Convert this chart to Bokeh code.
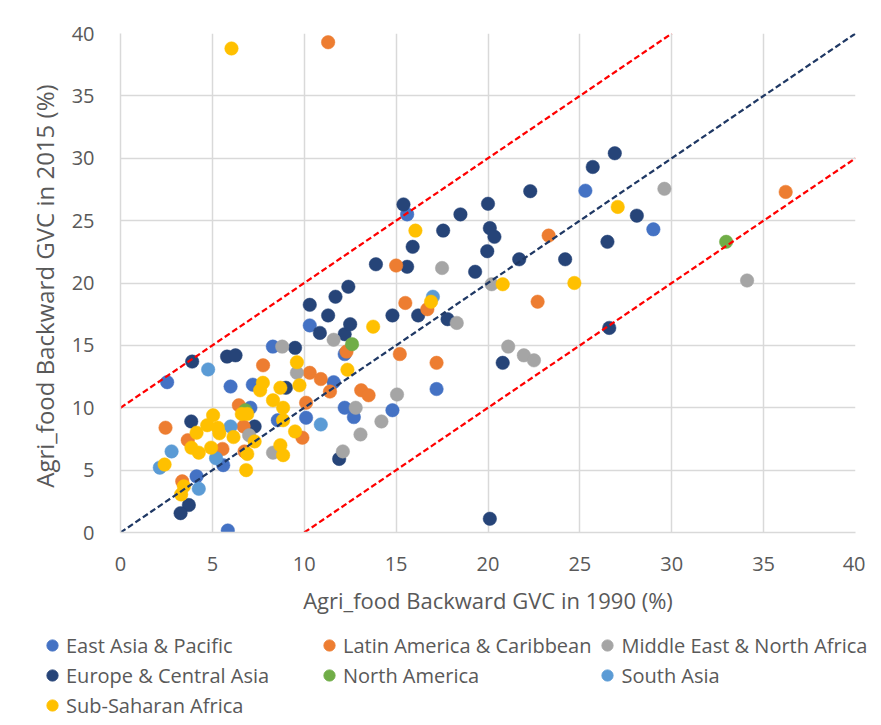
from bokeh.plotting import figure
from bokeh.layouts import column, row
from bokeh.models import Legend, LegendItem, FixedTicker, Range1d
from bokeh.embed import file_html
from bokeh.resources import INLINE

# ---- data ----
eap_x = [2.54, 5.99, 8.29, 7.2, 11.6, 10.1, 8.56, 12.2, 12.7, 14.8, 12.2, 10.3, 15.6, 17.2, 25.3, 29.0, 4.14, 5.59, 5.84, 7.07]
eap_y = [12.05, 11.7, 14.9, 11.85, 12.05, 9.2, 9.0, 10.0, 9.25, 9.8, 14.3, 16.6, 25.5, 11.5, 27.4, 24.3, 4.5, 5.4, 0.16, 10.0]

eca_x = [3.9, 5.8, 6.26, 9.5, 10.85, 12.2, 9.0, 7.3, 3.85, 3.72, 3.27, 11.9, 12.5, 11.3, 10.3, 11.7, 12.4, 13.9, 15.6, 14.8,
         16.2, 17.8, 15.9, 15.4, 17.56, 18.5, 20.0, 22.3, 20.1, 20.35, 19.96, 21.7, 24.2, 19.3, 20.8, 20.1, 25.7, 26.9, 28.1, 26.5, 26.6]
eca_y = [13.7, 14.1, 14.2, 14.8, 16.0, 15.9, 11.6, 8.5, 8.9, 2.2, 1.55, 5.9, 16.7, 17.4, 18.25, 18.9, 19.7, 21.5, 21.3, 17.4,
         17.4, 17.1, 22.9, 26.3, 24.2, 25.5, 26.35, 27.36, 24.4, 23.7, 22.55, 21.9, 21.9, 20.9, 13.6, 1.1, 29.3, 30.4, 25.4, 23.3, 16.4]

lac_x = [11.3, 7.76, 10.3, 10.9, 11.4, 10.1, 9.9, 6.44, 6.7, 6.75, 5.55, 2.45, 3.66, 3.36, 12.3, 15.0, 15.5, 16.7, 15.2, 17.2, 13.1, 13.5, 23.3, 22.7, 36.2]
lac_y = [39.3, 13.4, 12.8, 12.3, 11.3, 10.4, 7.6, 10.2, 8.5, 6.5, 6.7, 8.4, 7.4, 4.1, 14.5, 21.4, 18.4, 17.9, 14.3, 13.6, 11.4, 11.0, 23.8, 18.5, 27.3]

mena_x = [8.8, 9.6, 11.6, 7.0, 8.3, 12.1, 12.8, 14.2, 13.06, 15.05, 17.5, 18.3, 20.2, 21.1, 21.95, 22.5, 29.6, 34.1]
mena_y = [14.9, 12.8, 15.45, 7.8, 6.4, 6.5, 10.0, 8.9, 7.86, 11.06, 21.2, 16.8, 19.9, 14.9, 14.2, 13.8, 27.55, 20.2]

na_x = [6.8, 12.6, 32.96]
na_y = [9.8, 15.1, 23.3]

sa_x = [4.77, 2.78, 2.14, 5.99, 5.2, 4.26, 10.9, 17.0]
sa_y = [13.07, 6.5, 5.2, 8.5, 5.95, 3.5, 8.66, 18.9]

ssa_x = [6.04, 9.6, 12.35, 9.74, 8.7, 7.75, 7.6, 8.3, 8.85, 8.85, 9.5, 8.7, 8.85, 6.9, 6.6, 7.3, 6.9, 6.84, 6.15, 5.38,
         4.93, 4.14, 3.86, 4.26, 5.04, 4.72, 5.3, 2.4, 3.45, 3.3, 13.75, 16.05, 16.9, 20.8, 24.7, 27.06]
ssa_y = [38.8, 13.65, 13.05, 11.8, 11.6, 12.0, 11.4, 10.6, 10.0, 9.0, 8.1, 7.0, 6.2, 9.5, 9.5, 7.3, 6.3, 5.0, 7.65, 7.95,
         6.8, 8.0, 6.8, 6.4, 9.4, 8.6, 8.4, 5.45, 3.7, 3.05, 16.5, 24.2, 18.5, 19.9, 20.0, 26.1]

# reference lines: y = x, y = x + 10, y = x - 10
diag_x = [0, 40]
diag_y = [0, 40]
upper_x = [0, 30]
upper_y = [10, 40]
lower_x = [10, 40]
lower_y = [0, 30]

tick_values = [0, 5, 10, 15, 20, 25, 30, 35, 40]

regions = [
    ("East Asia & Pacific", eap_x, eap_y, "#4472C4"),
    ("Europe & Central Asia", eca_x, eca_y, "#264478"),
    ("Latin America & Caribbean", lac_x, lac_y, "#ED7D31"),
    ("Middle East & North Africa", mena_x, mena_y, "#A5A5A5"),
    ("North America", na_x, na_y, "#70AD47"),
    ("South Asia", sa_x, sa_y, "#5B9BD5"),
    ("Sub-Saharan Africa", ssa_x, ssa_y, "#FFC000"),
]
legend_order = ["East Asia & Pacific", "Latin America & Caribbean", "Middle East & North Africa",
                "Europe & Central Asia", "North America", "South Asia", "Sub-Saharan Africa"]

FONT = "Open Sans"
TXT = "#595959"
GRID = "#D9D9D9"

# ---------------- main scatter ----------------
p = figure(width=865, height=625, output_backend="svg", toolbar_location=None,
           x_range=Range1d(0, 40), y_range=Range1d(0, 40),
           min_border_left=120, min_border_right=10, min_border_top=33, min_border_bottom=93)
p.background_fill_color = "white"
p.border_fill_color = "white"
p.outline_line_color = None

for ax in (p.xaxis[0], p.yaxis[0]):
    ax.ticker = FixedTicker(ticks=tick_values)
    ax.axis_line_color = GRID
    ax.axis_line_width = 1.5
    ax.major_tick_line_color = None
    ax.minor_tick_line_color = None
    ax.major_label_text_font = FONT
    ax.major_label_text_font_size = "20px"
    ax.major_label_text_color = TXT
    ax.axis_label_text_font = FONT
    ax.axis_label_text_font_style = "normal"
    ax.axis_label_text_color = TXT

p.xaxis.axis_label = "Agri_food Backward GVC in 1990 (%)"
p.yaxis.axis_label = "Agri_food Backward GVC  in 2015 (%)"
p.xaxis.axis_label_text_font_size = "22px"
p.yaxis.axis_label_text_font_size = "24px"
p.xaxis.major_label_standoff = 18
p.yaxis.major_label_standoff = 20
p.xaxis.axis_label_standoff = 11
p.yaxis.axis_label_standoff = 8

for g in (p.xgrid[0], p.ygrid[0]):
    g.ticker = FixedTicker(ticks=tick_values)
    g.grid_line_color = GRID
    g.grid_line_width = 1.5

for name, xs, ys, col in regions:
    p.scatter(xs, ys, size=13.5, fill_color=col, line_color=col, line_width=0.5)

p.line(diag_x, diag_y, line_color="#1F3864", line_width=2.25, line_dash="6 3")
p.line(upper_x, upper_y, line_color="#FF0000", line_width=2.25, line_dash="6 3")
p.line(lower_x, lower_y, line_color="#FF0000", line_width=2.25, line_dash="6 3")

# ---------------- legend strip (its own plot; proxies hold the same data, out of view) ----------------
lg = figure(width=872, height=96, output_backend="svg", toolbar_location=None,
            x_range=Range1d(0, 40), y_range=Range1d(1000, 1001),
            x_axis_location=None, y_axis_location=None,
            min_border_left=0, min_border_right=0, min_border_top=0, min_border_bottom=0)
lg.grid.visible = False
lg.outline_line_color = None
lg.background_fill_color = "white"
lg.border_fill_color = "white"

proxies = {}
for name, xs, ys, col in regions:
    proxies[name] = lg.scatter(xs, ys, size=11, fill_color=col, line_color=col)
items = [LegendItem(label=n, renderers=[proxies[n]]) for n in legend_order]

legend = Legend(items=items, location=(38, 2), orientation="horizontal", ncols=3,
                glyph_width=28, glyph_height=28, label_standoff=0, label_width=247, spacing=2,
                padding=0, margin=0, border_line_color=None, background_fill_alpha=0,
                label_text_font=FONT, label_text_font_size="20px", label_text_color=TXT)
lg.add_layout(legend, "center")

layout = column(p, row(lg), spacing=0)
open("out.html", "w").write(file_html(layout, INLINE))
